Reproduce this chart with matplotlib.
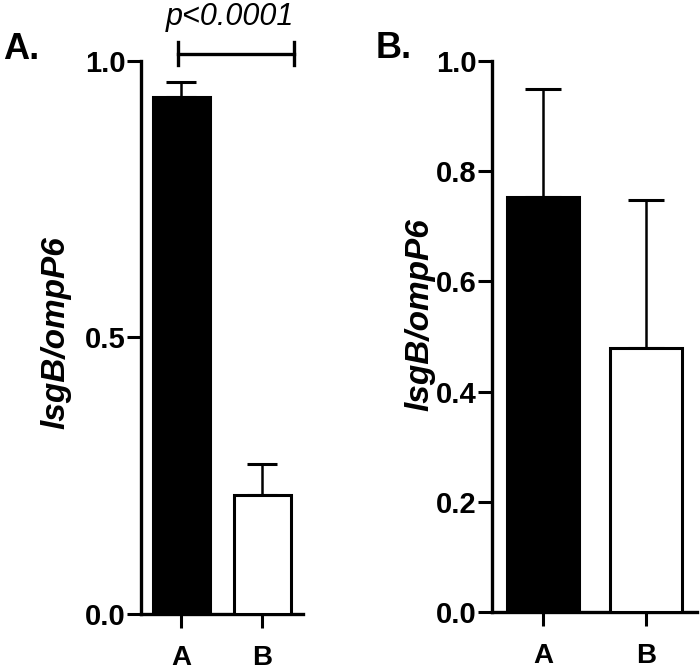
import matplotlib
matplotlib.use("Agg")
import matplotlib.pyplot as plt
import numpy as np

plt.rcParams['font.family'] = ['Liberation Sans', 'DejaVu Sans']

# data
groups = ["A", "B"]
means_a = [0.935, 0.215]
err_a = [0.027, 0.056]
means_b = [0.753, 0.479]
err_b = [0.196, 0.269]
bar_colors = ["black", "white"]
yticks_a = [0.0, 0.5, 1.0]
yticks_b = [0.0, 0.2, 0.4, 0.6, 0.8, 1.0]
ylabel = "lsgB/ompP6"
p_text = "p<0.0001"


def bar_panel(ax, means, errs, yticks, capsize):
    x = np.arange(len(groups))
    ax.bar(x, means, width=0.7, color=bar_colors, edgecolor="black",
           linewidth=2.2, zorder=3)
    ax.errorbar(x, means, yerr=[np.zeros(len(errs)), errs], fmt="none",
                ecolor="black", elinewidth=1.8, capsize=capsize,
                capthick=2.2, zorder=2)
    ax.set_xlim(-0.5, 1.5)
    ax.set_ylim(0, 1.0)
    ax.set_xticks(x)
    ax.set_xticklabels(groups, fontsize=20, fontweight="bold")
    ax.set_yticks(yticks)
    ax.set_yticklabels([f"{t:.1f}" for t in yticks], fontsize=21,
                       fontweight="bold")
    ax.tick_params(width=2.2, length=10, pad=1)
    ax.tick_params(axis="x", pad=12)
    for s in ["top", "right"]:
        ax.spines[s].set_visible(False)
    for s in ["left", "bottom"]:
        ax.spines[s].set_linewidth(2.4)


fig = plt.figure(figsize=(7, 6.72), dpi=100)
ax1 = fig.add_axes([0.2014, 0.0863, 0.2314, 0.823])
ax2 = fig.add_axes([0.703, 0.0893, 0.293, 0.820])

bar_panel(ax1, means_a, err_a, yticks_a, 10.5)
bar_panel(ax2, means_b, err_b, yticks_b, 13)

fig.text(56 / 700, 1 - 333 / 672, ylabel, rotation=90, ha="center",
         va="center", fontsize=24, fontweight="bold", style="italic")
fig.text(420 / 700, 1 - 315 / 672, ylabel, rotation=90, ha="center",
         va="center", fontsize=24, fontweight="bold", style="italic")

# significance bracket
bx0, bx1, by = -0.04, 1.39, 1.013
ax1.plot([bx0, bx1], [by, by], color="black", lw=2.4, clip_on=False)
for bx in (bx0, bx1):
    ax1.plot([bx, bx], [by - 0.021, by + 0.021], color="black", lw=2.4,
             clip_on=False)
ax1.text(0.6, 1.065, p_text, ha="center", va="baseline", fontsize=22,
         style="italic")

fig.text(0.004, 0.912, "A.", fontsize=26, fontweight="bold", va="baseline")
fig.text(0.536, 0.914, "B.", fontsize=26, fontweight="bold", va="baseline")

fig.savefig("out.png", dpi=100)
